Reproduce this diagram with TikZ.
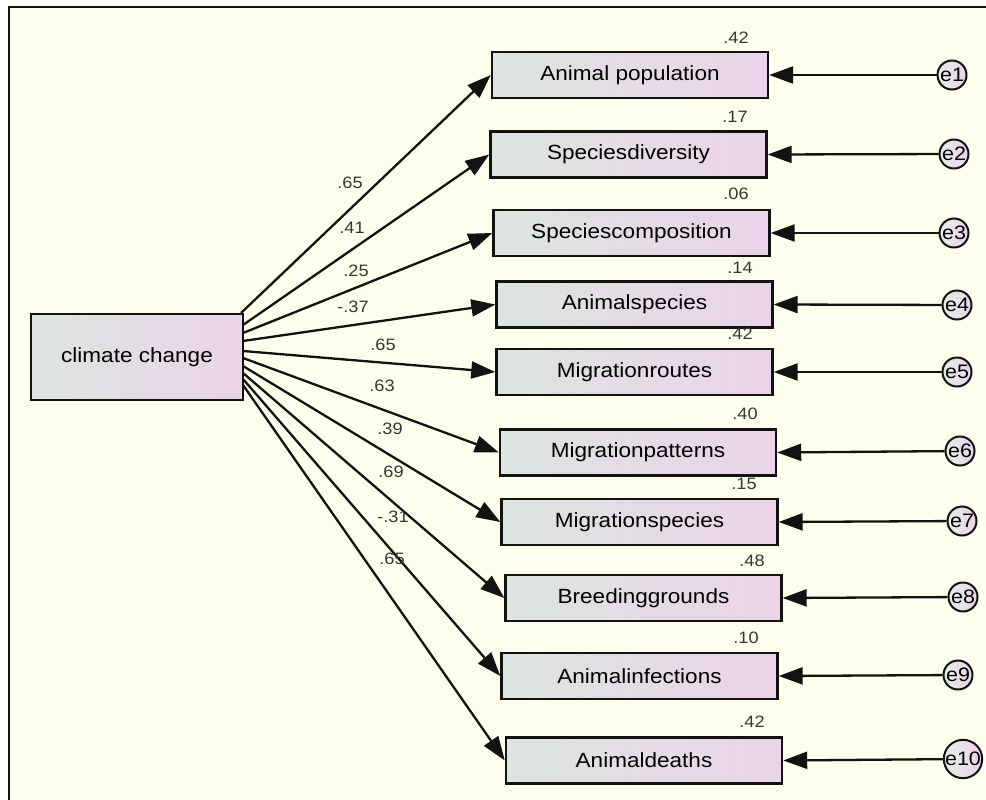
\documentclass[tikz,border=0pt]{standalone}
\usepackage{fontspec}
\setmainfont{Liberation Sans}[FakeStretch=1.1]
\usetikzlibrary{arrows.meta,calc}
\definecolor{paper}{RGB}{255,255,238}
\definecolor{boxL}{RGB}{220,229,223}
\definecolor{boxR}{RGB}{235,211,233}
\definecolor{ink}{RGB}{18,18,18}
\begin{document}
\begin{tikzpicture}[x=1pt,y=-1pt,
  obs/.style={draw=ink, line width=2.4pt, left color=boxL, right color=boxR,
    minimum width=276pt, minimum height=46pt, inner sep=0pt,
    font=\fontsize{20.5}{24}\selectfont},
  latent/.style={obs, minimum width=212pt, minimum height=86pt},
  err/.style={circle, draw=ink, line width=2pt, left color=boxL!70!white, right color=boxR,
    minimum size=29pt, inner sep=0pt, font=\fontsize{19.5}{22}\selectfont},
  reg/.style={draw=ink, line width=2.3pt, -{Triangle[length=24pt,width=17pt]}},
  coef/.style={inner sep=0pt, text=ink!85, font=\fontsize{16.5}{19}\selectfont}
]
\useasboundingbox (0,0) rectangle (986,800);
% page and frame
\fill[white] (0,0) rectangle (986,800);
\fill[paper] (9,7) rectangle (986,800);
\draw[ink, line width=2.5pt] (9,800) -- (9,7) -- (986,7);

% exogenous construct
\node[latent] (cc) at (137,357) {climate change};

% indicators
\node[obs] (b1)  at (630,75)    {Animal population};
\node[obs] (b2)  at (628.5,154.5) {Speciesdiversity};
\node[obs] (b3)  at (631.5,233) {Speciescomposition};
\node[obs] (b4)  at (634.5,304.5) {Animalspecies};
\node[obs] (b5)  at (634.5,372) {Migrationroutes};
\node[obs] (b6)  at (638,452.5) {Migrationpatterns};
\node[obs] (b7)  at (639.5,522) {Migrationspecies};
\node[obs] (b8)  at (643.5,598) {Breedinggrounds};
\node[obs] (b9)  at (639.5,676) {Animalinfections};
\node[obs] (b10) at (644,760.5) {Animaldeaths};

% error terms
\node[err] (e1)  at (952,75)  {e1};
\node[err] (e2)  at (954,154) {e2};
\node[err] (e3)  at (954,233) {e3};
\node[err] (e4)  at (957,305) {e4};
\node[err] (e5)  at (957,372) {e5};
\node[err] (e6)  at (960,451) {e6};
\node[err] (e7)  at (962,521) {e7};
\node[err] (e8)  at (963,597) {e8};
\node[err] (e9)  at (958,675) {e9};
\node[err] (e10) at (963,759) {e10};

% squared multiple correlations
\node[coef] (q1)  at (736,38)  {.42};
\node[coef] (q2)  at (735,117) {.17};
\node[coef] (q3)  at (736,194) {.06};
\node[coef] (q4)  at (740,268) {.14};
\node[coef] (q5)  at (740,334) {.42};
\node[coef] (q6)  at (745,414) {.40};
\node[coef] (q7)  at (744,484) {.15};
\node[coef] (q8)  at (752,561) {.48};
\node[coef] (q9)  at (746,638) {.10};
\node[coef] (q10) at (752,722) {.42};

% exit points on the construct's right side
\coordinate (s1)  at (241,313);
\coordinate (s2)  at (243,325);
\coordinate (s3)  at (243,333);
\coordinate (s4)  at (243,341);
\coordinate (s5)  at (243,351);
\coordinate (s6)  at (243,358);
\coordinate (s7)  at (243,366);
\coordinate (s8)  at (243,373);
\coordinate (s9)  at (243,379);
\coordinate (s10) at (243,385);

% loadings
\foreach \i in {1,...,10} {
  \draw[reg] (s\i) -- (b\i.west);
  \draw[reg] (e\i) -- (b\i.east);
}

% standardized loadings
\node[coef] (k1)  at (350,183) {.65};
\node[coef] (k2)  at (352,228) {.41};
\node[coef] (k3)  at (356,271) {.25};
\node[coef] (k4)  at (353,307) {-.37};
\node[coef] (k5)  at (383,345) {.65};
\node[coef] (k6)  at (382,386) {.63};
\node[coef] (k7)  at (390,429) {.39};
\node[coef] (k8)  at (391,472) {.69};
\node[coef] (k9)  at (393,517) {-.31};
\node[coef] (k10) at (392,559) {.65};
\end{tikzpicture}
\end{document}
